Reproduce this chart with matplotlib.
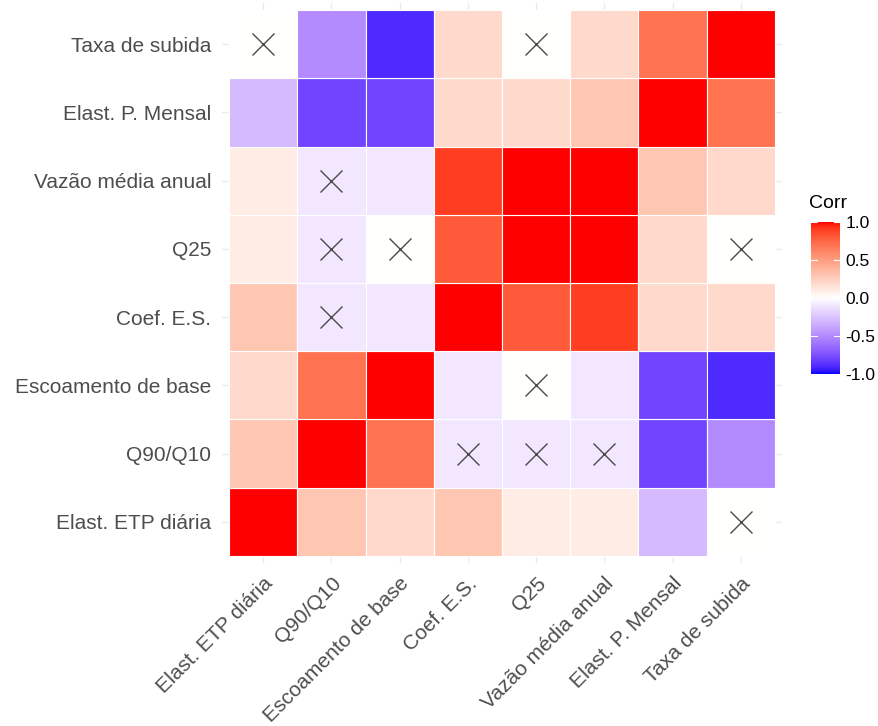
import numpy as np
import matplotlib
matplotlib.use("Agg")
import matplotlib.pyplot as plt
from matplotlib.colors import ListedColormap, Normalize
from matplotlib.patches import Rectangle

plt.rcParams['font.family'] = ['Liberation Sans', 'DejaVu Sans']

# Variable order (bottom-to-top on y, left-to-right on x)
variables = ["Elast. ETP diária", "Q90/Q10", "Escoamento de base", "Coef. E.S.",
             "Q25", "Vazão média anual", "Elast. P. Mensal", "Taxa de subida"]

# Correlation matrix, rows/cols in the order above
corr = [
    [1.0,  0.3,  0.2,  0.3,  0.1,  0.1, -0.3,  0.0],
    [0.3,  1.0,  0.7, -0.1, -0.1, -0.1, -0.8, -0.5],
    [0.2,  0.7,  1.0, -0.1,  0.0, -0.1, -0.8, -0.9],
    [0.3, -0.1, -0.1,  1.0,  0.8,  0.9,  0.2,  0.2],
    [0.1, -0.1,  0.0,  0.8,  1.0,  1.0,  0.2,  0.0],
    [0.1, -0.1, -0.1,  0.9,  1.0,  1.0,  0.3,  0.2],
    [-0.3, -0.8, -0.8, 0.2,  0.2,  0.3,  1.0,  0.7],
    [0.0, -0.5, -0.9,  0.2,  0.0,  0.2,  0.7,  1.0],
]

# Pairs (i, j) whose correlation is not significant
not_significant = [(0, 7), (1, 3), (1, 4), (1, 5), (2, 4), (4, 7)]

legend_ticks = [-1.0, -0.5, 0.0, 0.5, 1.0]


# ---- diverging blue-white-red palette interpolated in CIE Lab ----
_M = np.array([[0.4124564, 0.3575761, 0.1804375],
               [0.2126729, 0.7151522, 0.0721750],
               [0.0193339, 0.1191920, 0.9503041]])
_WHITE = np.array([0.95047, 1.0, 1.08883])


def srgb_to_lab(rgb):
    rgb = np.asarray(rgb, float)
    lin = np.where(rgb <= 0.04045, rgb / 12.92, ((rgb + 0.055) / 1.055) ** 2.4)
    xyz = _M @ lin / _WHITE
    f = np.where(xyz > 0.008856, np.cbrt(xyz), 7.787 * xyz + 16 / 116)
    return np.array([116 * f[1] - 16, 500 * (f[0] - f[1]), 200 * (f[1] - f[2])])


def lab_to_srgb(lab):
    L, a, b = lab
    fy = (L + 16) / 116
    fx = fy + a / 500
    fz = fy - b / 200
    f = np.array([fx, fy, fz])
    xyz = np.where(f ** 3 > 0.008856, f ** 3, (f - 16 / 116) / 7.787) * _WHITE
    lin = np.linalg.solve(_M, xyz)
    lin = np.clip(lin, 0, 1)
    rgb = np.where(lin <= 0.0031308, 12.92 * lin, 1.055 * lin ** (1 / 2.4) - 0.055)
    return np.clip(rgb, 0, 1)


lab_blue = srgb_to_lab([0, 0, 1])
lab_white = srgb_to_lab([1, 1, 1])
lab_red = srgb_to_lab([1, 0, 0])
colors = []
for v in np.linspace(-1, 1, 512):
    if v < 0:
        lab = lab_white + (-v) * (lab_blue - lab_white)
    else:
        lab = lab_white + v * (lab_red - lab_white)
    colors.append(lab_to_srgb(lab))
cmap = ListedColormap(colors)
norm = Normalize(-1, 1)

# ---- figure ----
fig = plt.figure(figsize=(8.79, 7.26), dpi=100)
ax = fig.add_axes([222.2 / 879, 1 - 562.8 / 726, 559.6 / 879, 559.6 / 726])

n = len(variables)
ax.set_xlim(-0.6, n - 0.4)
ax.set_ylim(-0.6, n - 0.4)

# light grid behind tiles
for k in range(n):
    ax.axvline(k, color="#EBEBEB", lw=1.0, zorder=0)
    ax.axhline(k, color="#EBEBEB", lw=1.0, zorder=0)

cm = np.array(corr)
for i in range(n):          # row (y)
    for j in range(n):      # column (x)
        ax.add_patch(Rectangle((j - 0.5, i - 0.5), 1, 1,
                               facecolor=cmap(norm(cm[i, j])),
                               edgecolor="white", lw=0.8, zorder=2))

ns = set()
for a, b in not_significant:
    ns.add((a, b))
    ns.add((b, a))
for i, j in sorted(ns):
    ax.plot(j, i, marker="x", markersize=16, markeredgewidth=1.0,
            color="#4a4a4a", zorder=3)

ax.set_xticks(range(n))
ax.set_yticks(range(n))
ax.set_xticklabels(variables, rotation=45, ha="right", va="top",
                   rotation_mode="anchor", fontsize=15, color="#4D4D4D")
ax.set_yticklabels(variables, fontsize=15, color="#4D4D4D")
ax.tick_params(length=0, pad=8)
ax.tick_params(axis="x", pad=8)
for s in ax.spines.values():
    s.set_visible(False)

# ---- colour legend ----
cax = fig.add_axes([811 / 879, 1 - 376 / 726, 29 / 879, 156 / 726])
grad = np.linspace(-1, 1, 300).reshape(-1, 1)
cax.imshow(grad, aspect="auto", cmap=cmap, norm=norm, origin="lower",
           extent=[0, 1, -1, 1])
cax.set_xlim(0, 1)
cax.set_ylim(-1.03, 1.03)
cax.set_xticks([])
cax.set_yticks(legend_ticks)
cax.set_yticklabels([f"{t:.1f}" for t in legend_ticks], fontsize=12.5)
cax.yaxis.tick_right()
cax.tick_params(axis="y", length=0, pad=4)
for t in legend_ticks:
    cax.plot([0, 0.2], [t, t], color="white", lw=0.8)
    cax.plot([0.8, 1.0], [t, t], color="white", lw=0.8)
for s in cax.spines.values():
    s.set_visible(False)
fig.text(809 / 879, 1 - 203 / 726, "Corr", fontsize=14, va="center", ha="left")

fig.savefig("out.png", dpi=100, facecolor="white")
